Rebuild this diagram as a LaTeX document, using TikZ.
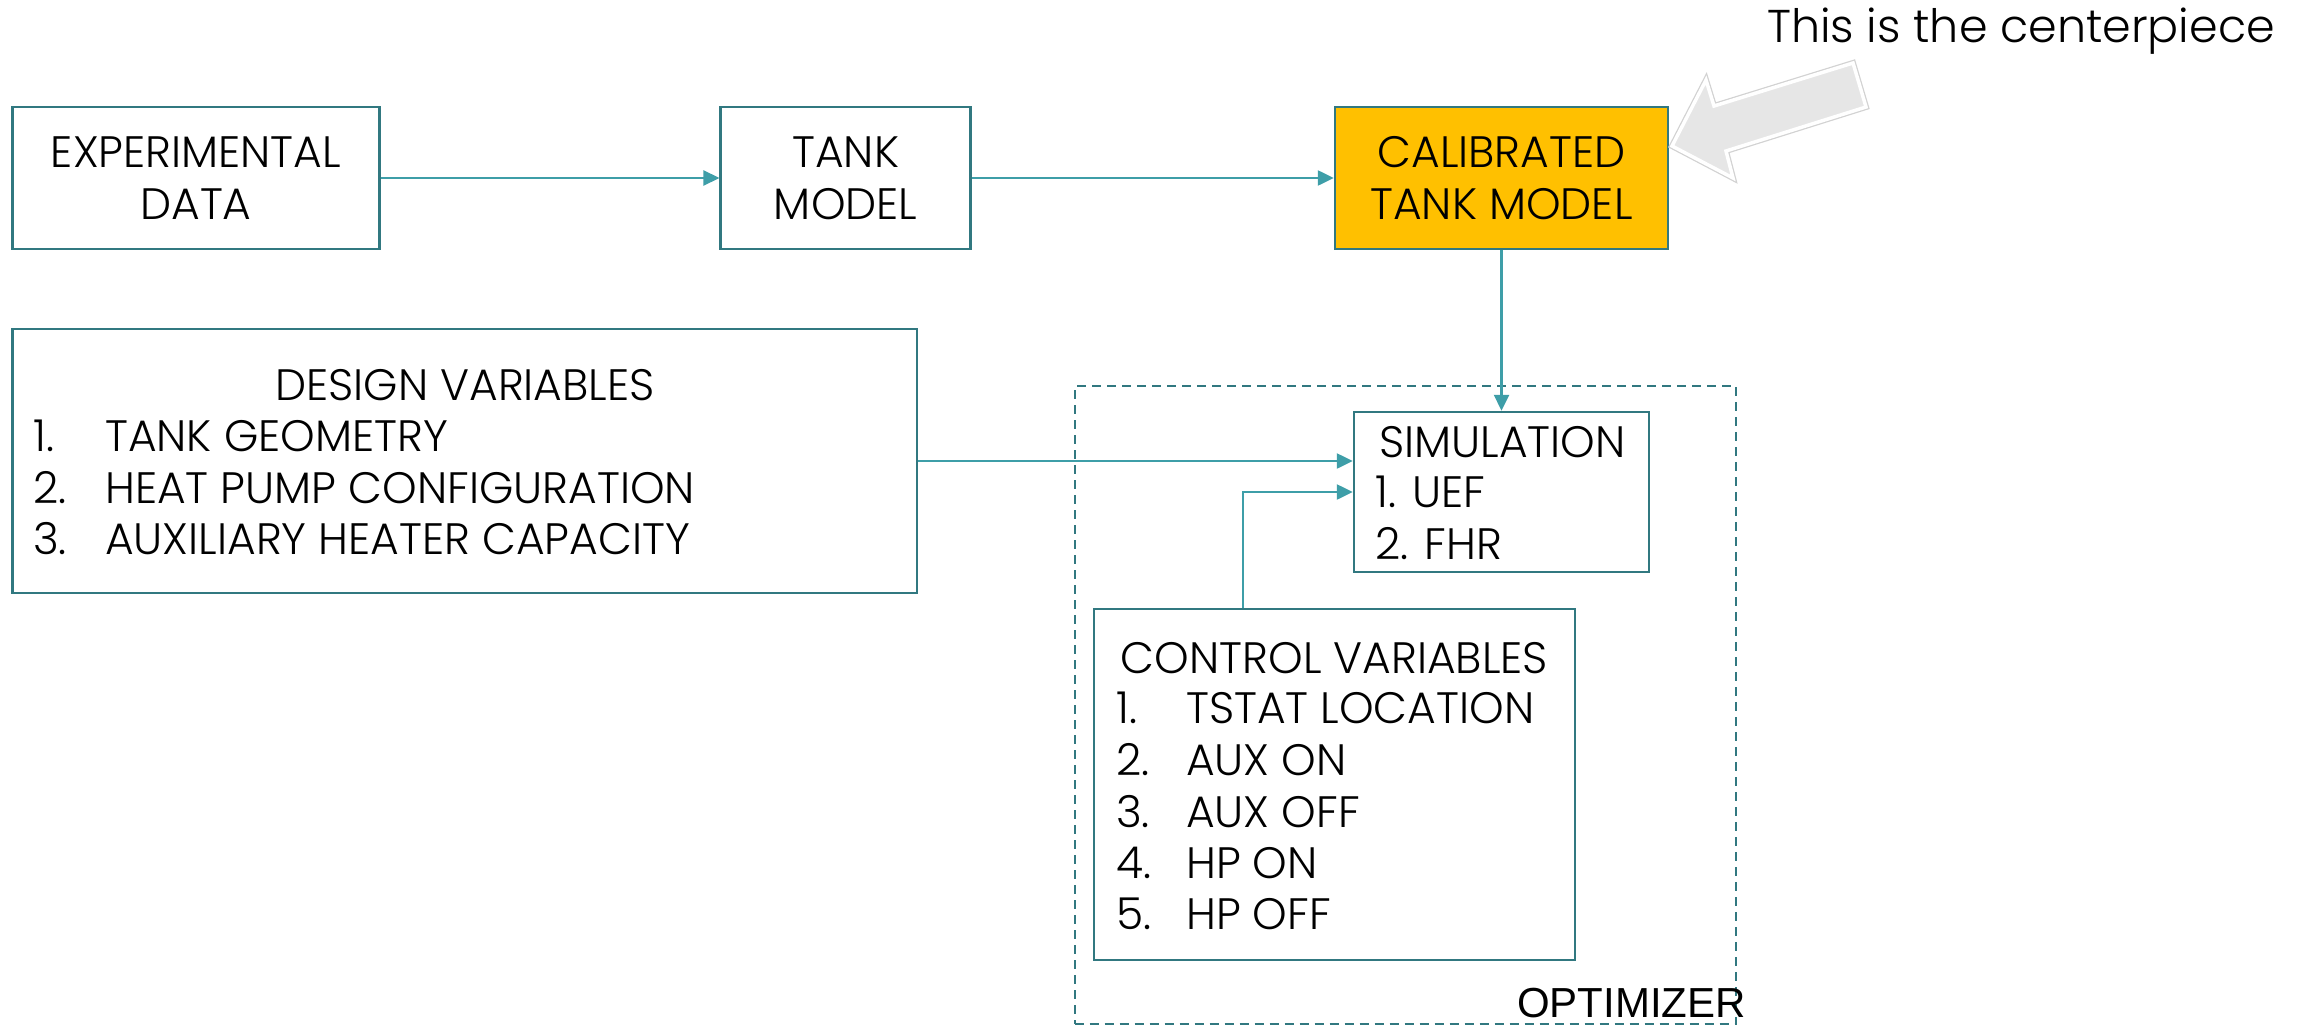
\documentclass[tikz,border=0pt]{standalone}
\usepackage{fontspec}
\setmainfont{Poppins}[UprightFont=* Light]
\newfontfamily\arialfont{Liberation Sans}
\usetikzlibrary{arrows.meta}
\definecolor{boxteal}{RGB}{49,120,128}
\definecolor{arrteal}{RGB}{62,158,168}
\definecolor{calgold}{RGB}{255,192,0}
\definecolor{arrgray}{RGB}{230,230,230}
\begin{document}
\begin{tikzpicture}[x=1pt,y=-1pt,
  box/.style={draw=boxteal, line width=2.5pt, inner sep=0pt, rectangle},
  lbl/.style={font=\fontsize{44}{52}\selectfont, align=center},
  itm/.style={font=\fontsize{44}{52}\selectfont, inner sep=0pt, anchor=base west},
  hdr/.style={font=\fontsize{44}{52}\selectfont, inner sep=0pt, anchor=base},
  conn/.style={draw=arrteal, line width=2.5pt, -{Triangle[length=16pt,width=15pt]}},
]
\useasboundingbox (0,0) rectangle (2299,1025);

% top row
\node[box, lbl, minimum width=367pt, minimum height=142pt] (exp) at (196,178) {EXPERIMENTAL\\DATA};
\node[box, lbl, minimum width=250pt, minimum height=142pt] (tank) at (845.7,178) {TANK\\MODEL};
\node[box, lbl, fill=calgold, minimum width=333pt, minimum height=142pt] (cal) at (1501.5,178) {CALIBRATED\\TANK MODEL};

% optimizer region
\node[draw=boxteal, line width=2pt, dash pattern=on 9pt off 6pt, inner sep=0pt,
      minimum width=661.5pt, minimum height=638pt] (opt) at (1405.25,705) {};
\node[font=\arialfont\fontsize{42}{50}\selectfont, anchor=base east, inner sep=0pt] (optl) at (1746,1017) {OPTIMIZER};

% design variables
\node[box, minimum width=904.5pt, minimum height=264pt] (design) at (464.75,461) {};
\node[hdr] (dh) at (465,400) {DESIGN VARIABLES};
\node[itm] (d1n) at (33,451) {1.};
\node[itm] (d1) at (105,451) {TANK GEOMETRY};
\node[itm] (d2n) at (33,503) {2.};
\node[itm] (d2) at (105,503) {HEAT PUMP CONFIGURATION};
\node[itm] (d3n) at (33,554) {3.};
\node[itm] (d3) at (105,554) {AUXILIARY HEATER CAPACITY};

% simulation
\node[box, minimum width=295pt, minimum height=160pt] (sim) at (1501.5,492) {};
\node[itm] (sh) at (1379,457) {SIMULATION};
\node[itm] (s1) at (1375,507) {1. UEF};
\node[itm] (s2) at (1375,559) {2. FHR};

% control variables
\node[box, minimum width=481pt, minimum height=351pt] (ctrl) at (1334.5,784.5) {};
\node[hdr] (ch) at (1334.5,673) {CONTROL VARIABLES};
\node[itm] (c1n) at (1116,723) {1.};
\node[itm] (c1) at (1186,723) {TSTAT LOCATION};
\node[itm] (c2n) at (1116,775) {2.};
\node[itm] (c2) at (1186,775) {AUX ON};
\node[itm] (c3n) at (1116,827) {3.};
\node[itm] (c3) at (1186,827) {AUX OFF};
\node[itm] (c4n) at (1116,878) {4.};
\node[itm] (c4) at (1186,878) {HP ON};
\node[itm] (c5n) at (1116,929) {5.};
\node[itm] (c5) at (1186,929) {HP OFF};

% connectors
\draw[conn] (exp.east) -- (tank.west);
\draw[conn] (tank.east) -- (cal.west);
\draw[conn] (cal.south) -- (sim.north);
\draw[conn] (design.east |- sim.west) ++(0,-31) -- ([yshift=31pt]sim.west);
\draw[conn] ([xshift=-91.5pt]ctrl.north) |- (sim.west);

% annotation
\node[font=\fontsize{46}{56}\selectfont, anchor=base east, inner sep=0pt] (cp) at (2275,43) {This is the centerpiece};
\draw[gray!35, line width=6pt, line join=miter]
  (1672,146) -- (1706,80) -- (1714,106) -- (1853,63) -- (1866,107) -- (1726,151) -- (1733,178) -- cycle;
\draw[draw=white, fill=arrgray, line width=3.5pt, line join=miter]
  (1672,146) -- (1706,80) -- (1714,106) -- (1853,63) -- (1866,107) -- (1726,151) -- (1733,178) -- cycle;
\end{tikzpicture}
\end{document}
